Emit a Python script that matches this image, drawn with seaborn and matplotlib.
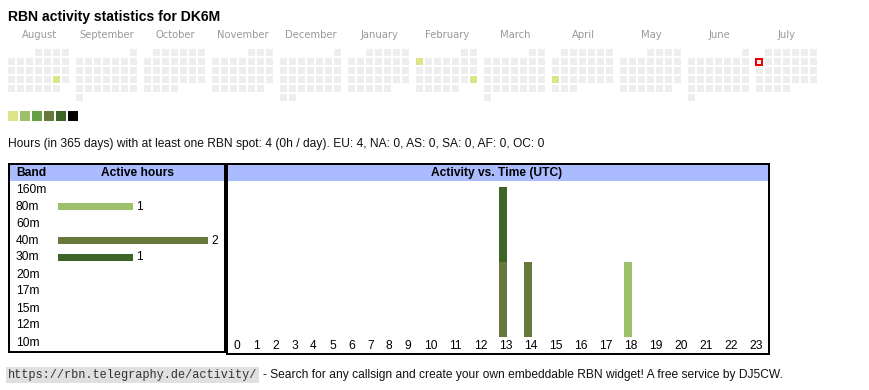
import calendar
import datetime as dt
import numpy as np
import pandas as pd
import matplotlib
matplotlib.use("Agg")
import matplotlib.pyplot as plt
from matplotlib.colors import ListedColormap
from matplotlib.patches import Rectangle
import seaborn as sns

# ---------------- data ----------------
callsign = "DK6M"
month_names = ["August", "September", "October", "November", "December", "January",
               "February", "March", "April", "May", "June", "July"]
month_years = [2024, 2024, 2024, 2024, 2024, 2025, 2025, 2025, 2025, 2025, 2025, 2025]
month_numbers = [8, 9, 10, 11, 12, 1, 2, 3, 4, 5, 6, 7]
active_dates = ["2024-08-24", "2025-02-03", "2025-02-23", "2025-04-21"]
active_date_hours = [1, 1, 1, 1]
today = "2025-07-07"
level_colors = ["#dce48a", "#9dc16a", "#68a244", "#66793a", "#3c6527", "#000000"]
empty_color = "#eeeeee"

summary_text = ("Hours (in 365 days) with at least one RBN spot: 4 (0h / day). "
                "EU: 4, NA: 0, AS: 0, SA: 0, AF: 0, OC: 0")

bands = ["160m", "80m", "60m", "40m", "30m", "20m", "17m", "15m", "12m", "10m"]
band_hours = [0, 1, 0, 2, 1, 0, 0, 0, 0, 0]
band_colors = {"80m": "#9dc16a", "40m": "#66793a", "30m": "#3c6527"}

utc_hours = list(range(24))
hours_80m = [0, 0, 0, 0, 0, 0, 0, 0, 0, 0, 0, 0, 0, 0, 0, 0, 0, 0, 1, 0, 0, 0, 0, 0]
hours_40m = [0, 0, 0, 0, 0, 0, 0, 0, 0, 0, 0, 0, 0, 1, 1, 0, 0, 0, 0, 0, 0, 0, 0, 0]
hours_30m = [0, 0, 0, 0, 0, 0, 0, 0, 0, 0, 0, 0, 0, 1, 0, 0, 0, 0, 0, 0, 0, 0, 0, 0]
time_by_band = {"80m": hours_80m, "40m": hours_40m, "30m": hours_30m}

footer_url = "https://rbn.telegraphy.de/activity/"
footer_text = "- Search for any callsign and create your own embeddable RBN widget! A free service by DJ5CW."

header_blue = "#aabbff"

# ---------------- layout helpers ----------------
W, H = 870, 390
PT = 0.72  # points per pixel at 100 dpi
plt.rcParams["font.family"] = ["Liberation Sans", "DejaVu Sans"]
fig = plt.figure(figsize=(W / 100, H / 100), dpi=100)
fig.patch.set_facecolor("white")


def px_axes(x0, y0, x1, y1):
    return fig.add_axes([x0 / W, 1 - y1 / H, (x1 - x0) / W, (y1 - y0) / H])


def fy(y):
    return 1 - y / H


# ---------------- title & summary ----------------
title = fig.text(8 / W, fy(21), f"RBN activity statistics for {callsign}",
                 fontsize=15 * PT, fontweight="bold", va="baseline", ha="left")
summary = fig.text(8 / W, fy(146.5), summary_text, fontsize=13 * PT,
                   va="baseline", ha="left", color="#111111")

# ---------------- calendar ----------------
active = dict(zip(pd.to_datetime(active_dates).date, active_date_hours))
today_d = pd.to_datetime(today).date()
cal_cmap = ListedColormap([empty_color] + level_colors)
for i, (name, yr, mo) in enumerate(zip(month_names, month_years, month_numbers)):
    grid = np.full((6, 7), np.nan)
    first_wd, ndays = calendar.monthrange(yr, mo)
    today_cell = None
    for d in range(1, ndays + 1):
        r, c = divmod(first_wd + d - 1, 7)
        grid[r, c] = min(active.get(dt.date(yr, mo, d), 0), 6)
        if dt.date(yr, mo, d) == today_d:
            today_cell = (r, c)
    x0 = 7 + 68 * i
    ax = px_axes(x0, 48, x0 + 63, 102)
    sns.heatmap(grid, mask=np.isnan(grid), cmap=cal_cmap, vmin=-0.5, vmax=6.5,
                cbar=False, linewidths=2 * PT, linecolor="white",
                xticklabels=False, yticklabels=False, ax=ax)
    ax.set_xlim(0, 7)
    ax.set_ylim(6, 0)
    if today_cell is not None:
        r, c = today_cell
        ax.add_patch(Rectangle((c + 0.5 - 3 / 9, r + 0.5 - 3 / 9), 6 / 9, 6 / 9,
                               facecolor=empty_color, edgecolor="#ee0000",
                               linewidth=2 * PT, zorder=5))
    fig.text((x0 + 32) / W, fy(38), name, ha="center", va="baseline",
             fontsize=10 * PT, color="#999999", family="DejaVu Sans")

# legend swatches
axl = px_axes(7, 110, 79, 122)
sns.heatmap(np.array([list(range(1, len(level_colors) + 1))]),
            cmap=ListedColormap(level_colors), vmin=0.5, vmax=len(level_colors) + 0.5,
            cbar=False, linewidths=2 * PT, linecolor="white",
            xticklabels=False, yticklabels=False, ax=axl)

# ---------------- band panel ----------------
BAR0, UNIT, ROW0, ROWP = 58, 75, 189.5, 17
axb = px_axes(9, 164, 225, 352)
df_b = pd.DataFrame({"band": bands, "hours": band_hours})
palette = {b: band_colors.get(b, "#ffffff") for b in bands}
sns.barplot(data=df_b, y="band", x="hours", hue="band", palette=palette,
            orient="h", width=7 / ROWP, saturation=1, legend=False,
            linewidth=0, ax=axb)
axb.set_xlim((9 - BAR0) / UNIT, (225 - BAR0) / UNIT)
axb.set_ylim((352 - ROW0) / ROWP, (164 - ROW0) / ROWP)
axb.axhspan(-1.5, -0.5, color=header_blue, zorder=0, linewidth=0)
axb.set_xticks([])
axb.set_yticks([])
axb.set_xlabel("")
axb.set_ylabel("")
for s in axb.spines.values():
    s.set_visible(True)
    s.set_linewidth(2 * PT)
    s.set_color("black")
axb.text((16 - BAR0) / UNIT, -1, "Band", fontweight="bold", fontsize=12 * PT,
         va="center", ha="left")
axb.text((138 - BAR0) / UNIT, -1, "Active hours", fontweight="bold",
         fontsize=12 * PT, va="center", ha="center")
for i, (b, v) in enumerate(zip(bands, band_hours)):
    axb.text((16 - BAR0) / UNIT, i, b, fontsize=12 * PT, va="center", ha="left")
    if v > 0:
        axb.text(v + 3.5 / UNIT, i, str(v), fontsize=12 * PT, va="center", ha="left")

# ---------------- time panel ----------------
BASE = 337
axt = px_axes(227, 164, 769, 354)
axt.set_xlim(227, 769)
axt.set_ylim((BASE - 354) / UNIT, (BASE - 164) / UNIT)
axt.axhspan((BASE - 181) / UNIT, (BASE - 160) / UNIT, color=header_blue,
            zorder=0, linewidth=0)
cell_w = np.array([13 + 6 * len(str(h)) for h in utc_hours])
cell_left = 228 + np.concatenate([[0], np.cumsum(cell_w)[:-1]])
bottom = np.zeros(len(utc_hours))
for b in bands:
    if b not in time_by_band:
        continue
    vals = np.array(time_by_band[b], dtype=float)
    axt.bar(cell_left + 6, vals, width=8, bottom=bottom, align="edge",
            color=band_colors[b], linewidth=0)
    bottom += vals
for h, xl in zip(utc_hours, cell_left):
    axt.text(xl + 6, (BASE - 346) / UNIT, str(h), fontsize=12 * PT,
             va="center", ha="left")
axt.text(497, (BASE - 173) / UNIT, "Activity vs. Time (UTC)", fontweight="bold",
         fontsize=12 * PT, va="center", ha="center")
axt.set_xticks([])
axt.set_yticks([])
for s in axt.spines.values():
    s.set_linewidth(2 * PT)
    s.set_color("black")

# ---------------- footer ----------------
url = fig.text(8 / W, fy(378), footer_url, family=["Liberation Mono", "DejaVu Sans Mono"],
               fontsize=12 * PT, color="#333333", va="baseline", ha="left",
               bbox=dict(boxstyle="square,pad=0.15", facecolor="#e0e0e0", edgecolor="none"))
foot = fig.text(263 / W, fy(378), footer_text,
                family=["Liberation Sans Narrow", "Liberation Sans"],
                fontsize=12 * PT, color="#111111", va="baseline", ha="left")

# ---------------- fit text widths to the reference ----------------
renderer = fig.canvas.get_renderer()
for t, target in [(title, 212), (summary, 535), (url, 251), (foot, 520)]:
    w = t.get_window_extent(renderer).width
    if w > 0:
        t.set_fontsize(t.get_fontsize() * target / w)

fig.savefig("out.png", dpi=100, facecolor="white")
